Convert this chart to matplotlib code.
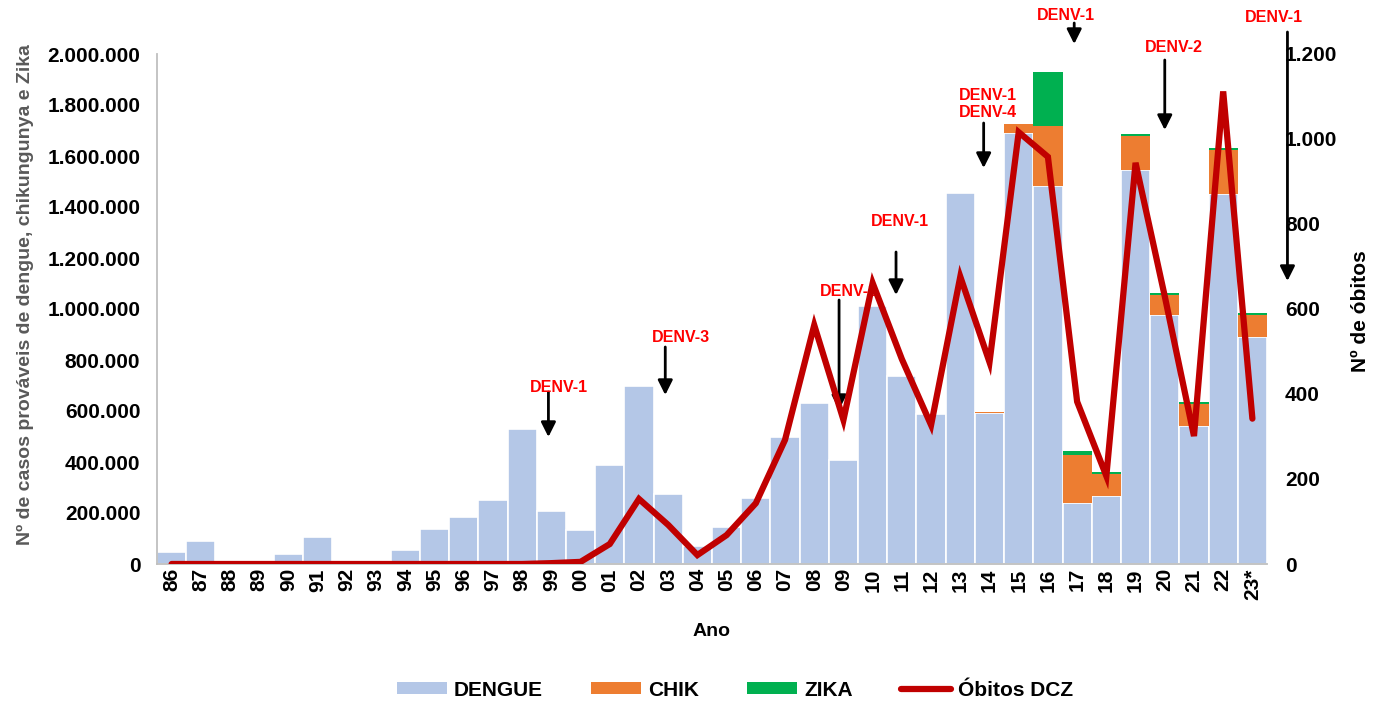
import matplotlib
matplotlib.use("Agg")
import matplotlib.pyplot as plt
from matplotlib.transforms import blended_transform_factory
from matplotlib.patches import Patch
from matplotlib.lines import Line2D
import numpy as np

plt.rcParams['font.family'] = ['Liberation Sans', 'DejaVu Sans']
plt.rcParams['font.weight'] = 'bold'

years = ["86", "87", "88", "89", "90", "91", "92", "93", "94", "95", "96", "97", "98", "99",
         "00", "01", "02", "03", "04", "05", "06", "07", "08", "09", "10", "11", "12", "13",
         "14", "15", "16", "17", "18", "19", "20", "21", "22", "23*"]
dengue = [47000, 90000, 0, 0, 39000, 106000, 0, 0, 55000, 137000, 184000, 251000, 529000, 208000,
          133000, 388000, 698000, 274000, 71000, 145000, 259000, 498000, 631000, 408000, 1012000,
          737000, 588000, 1455000, 592000, 1689000, 1483000, 240000, 266000, 1546000, 976000,
          543000, 1451000, 892000]
chik = [0] * 28 + [3000, 38000, 235000, 187000, 87000, 132000, 80000, 86000, 174000, 86000]
zika = [0] * 30 + [211000, 16000, 8000, 8000, 7000, 6000, 6000, 6000]
obitos = [0, 0, 0, 0, 0, 0, 0, 0, 0, 0, 0, 0, 0, 2,
          5, 47, 153, 92, 21, 68, 143, 292, 562, 339, 661, 482, 327, 676,
          475, 1016, 958, 382, 207, 944, 630, 301, 1112, 342]

left_ticks = [0, 200000, 400000, 600000, 800000, 1000000, 1200000, 1400000, 1600000, 1800000, 2000000]
left_ticklabels = ["0", "200.000", "400.000", "600.000", "800.000", "1.000.000", "1.200.000",
                   "1.400.000", "1.600.000", "1.800.000", "2.000.000"]
right_ticks = [0, 200, 400, 600, 800, 1000, 1200]
right_ticklabels = ["0", "200", "400", "600", "800", "1.000", "1.200"]

# annotations: label, arrow x (data), text centre y (px from top), arrow top, arrow tip (px from top), text x (data)
annotations = [
    ("DENV-1", 12.9, 388, 392, 437, 13.25),
    ("DENV-3", 16.9, 338, 347, 395, 17.45),
    ("DENV-2", 22.85, 291, 300, 410, 23.2),
    ("DENV-1", 24.8, 222, 252, 295, 24.95),
    ("DENV-1\nDENV-4", 27.8, 104, 123, 168, 27.95),
    ("DENV-1", 30.9, 16, 23, 44, 30.6),
    ("DENV-2", 34.0, 48, 60, 130, 34.3),
    ("DENV-1", 38.2, 18, 32, 281, 37.75),
]

C_DENGUE = "#b4c7e7"
C_CHIK = "#ed7d31"
C_ZIKA = "#00b050"
C_LINE = "#c00000"

W, H = 1374, 701
fig = plt.figure(figsize=(W / 100, H / 100), dpi=100)
ax = fig.add_axes([157 / W, 1 - 564 / H, 1110 / W, 510 / H])
ax2 = ax.twinx()

x = np.arange(len(years))
d = np.array(dengue)
c = np.array(chik)
z = np.array(zika)
ax.bar(x, d, width=1.0, color=C_DENGUE, edgecolor="white", linewidth=1.2, zorder=2)
ax.bar(x, c, width=1.0, bottom=d, color=C_CHIK, edgecolor="white", linewidth=0, zorder=2)
ax.bar(x, z, width=1.0, bottom=d + c, color=C_ZIKA, edgecolor="white", linewidth=0, zorder=2)

ax.set_xlim(-0.5, len(years) - 0.5)
ax.set_ylim(0, 2000000)
ax.set_yticks(left_ticks)
ax.set_yticklabels(left_ticklabels, fontsize=15, fontweight='bold')
ax.set_xticks(x)
ax.set_xticklabels(years, rotation=90, fontsize=15, fontweight='bold')
ax.tick_params(axis='x', length=0, pad=3)
ax.tick_params(axis='y', length=0, pad=12)
for s in ["top", "right"]:
    ax.spines[s].set_visible(False)
ax.spines["left"].set_color("#bfbfbf")
ax.spines["bottom"].set_color("#bfbfbf")
ax.spines["left"].set_linewidth(1.3)
ax.spines["bottom"].set_linewidth(1.3)

ax2.plot(x, obitos, color=C_LINE, lw=4.5, solid_joinstyle='miter', solid_capstyle='round', zorder=3)
ax2.set_ylim(0, 1200)
ax2.set_yticks(right_ticks)
ax2.set_yticklabels(right_ticklabels, fontsize=15, fontweight='bold')
ax2.tick_params(axis='y', length=0, pad=13)
for s in ["top", "right", "left", "bottom"]:
    ax2.spines[s].set_visible(False)

tr = blended_transform_factory(ax.transData, fig.transFigure)
for label, ax_x, ty, a0, a1, tx in annotations:
    ax.annotate("", xy=(ax_x, 1 - a1 / H), xycoords=tr,
                xytext=(ax_x, 1 - a0 / H), textcoords=tr,
                arrowprops=dict(arrowstyle='-|>', color='black', lw=2,
                                mutation_scale=22, shrinkA=0, shrinkB=0),
                annotation_clip=False, zorder=1)
    ax.text(tx, 1 - ty / H, label, transform=tr, color="#ff0000", fontsize=11.5,
            fontweight='bold', ha='center', va='center', clip_on=False, zorder=1,
            linespacing=1.2)

fig.text(25 / W, 1 - 295 / H, "Nº de casos prováveis de dengue, chikungunya e Zika",
         rotation=90, ha='center', va='center', color="#595959", fontsize=14, fontweight='bold')
fig.text(1360 / W, 1 - 311 / H, "Nº de óbitos", rotation=90, ha='center', va='center',
         color="black", fontsize=15, fontweight='bold')
fig.text(712 / W, 1 - 632 / H, "Ano", ha='center', va='center', fontsize=14, fontweight='bold')

handles = [Patch(facecolor=C_DENGUE, label="DENGUE"),
           Patch(facecolor=C_CHIK, label="CHIK"),
           Patch(facecolor=C_ZIKA, label="ZIKA"),
           Line2D([0], [0], color=C_LINE, lw=4.5, label="Óbitos DCZ", solid_capstyle='round')]
fig.legend(handles=handles, loc='center', bbox_to_anchor=(735 / W, 1 - 690 / H), ncol=4,
           frameon=False, prop=dict(size=15, weight='bold'),
           handlelength=2.4, handleheight=0.55, handletextpad=0.35, columnspacing=2.3)

fig.savefig("out.png", dpi=100)
